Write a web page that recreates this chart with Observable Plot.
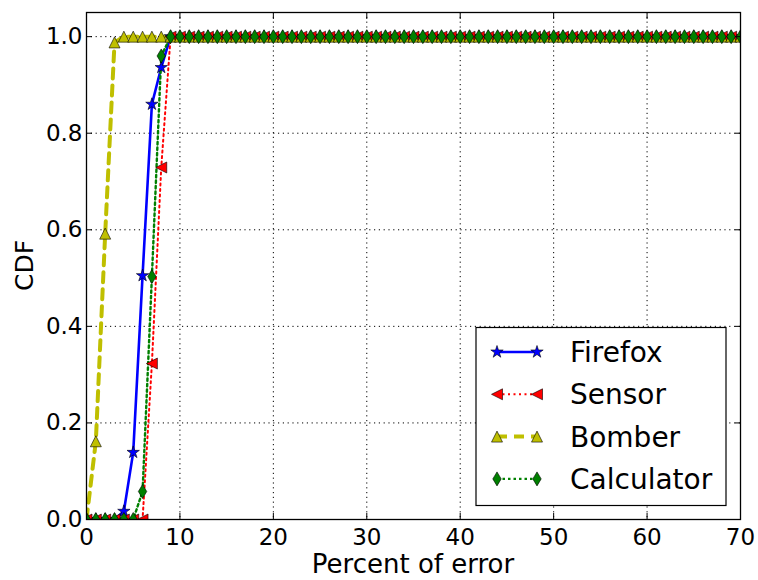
<!DOCTYPE html>
<html><head><meta charset="utf-8">
<script src="https://cdn.jsdelivr.net/npm/d3@7"></script>
<script src="https://cdn.jsdelivr.net/npm/@observablehq/plot@0.6"></script>
<style>body{margin:0;background:#fff} svg{font-family:"DejaVu Sans",sans-serif}</style>
</head><body><div id="chart"></div>
<script>
const percentError = [0,1,2,3,4,5,6,7,8,9,10,11,12,13,14,15,16,17,18,19,20,21,22,23,24,25,26,27,28,29,30,31,32,33,34,35,36,37,38,39,40,41,42,43,44,45,46,47,48,49,50,51,52,53,54,55,56,57,58,59,60,61,62,63,64,65,66,67,68,69,70];
const firefox = [0,0,0,0,0.017,0.139,0.505,0.86,0.936,
  1,1,1,1,1,1,1,1,1,1, 1,1,1,1,1,1,1,1,1,1, 1,1,1,1,1,1,1,1,1,1, 1,1,1,1,1,1,1,1,1,1, 1,1,1,1,1,1,1,1,1,1, 1,1,1,1,1,1,1,1,1,1, 1,1];
const sensor = [0,0,0,0,0,0,0,0.323,0.729,
  1,1,1,1,1,1,1,1,1,1, 1,1,1,1,1,1,1,1,1,1, 1,1,1,1,1,1,1,1,1,1, 1,1,1,1,1,1,1,1,1,1, 1,1,1,1,1,1,1,1,1,1, 1,1,1,1,1,1,1,1,1,1, 1,1];
const bomber = [0,0.162,0.592,0.988,
  1,1,1,1,1,1,1,1,1,1, 1,1,1,1,1,1,1,1,1,1, 1,1,1,1,1,1,1,1,1,1, 1,1,1,1,1,1,1,1,1,1, 1,1,1,1,1,1,1,1,1,1, 1,1,1,1,1,1,1,1,1,1, 1,1,1,1,1,1,1];
const calculator = [0,0,0,0,0,0,0.058,0.503,0.96,
  1,1,1,1,1,1,1,1,1,1, 1,1,1,1,1,1,1,1,1,1, 1,1,1,1,1,1,1,1,1,1, 1,1,1,1,1,1,1,1,1,1, 1,1,1,1,1,1,1,1,1,1, 1,1,1,1,1,1,1,1,1,1, 1,1];
const xTicks = [0,10,20,30,40,50,60,70];
const yTicks = [0,0.2,0.4,0.6,0.8,1.0];
const seriesNames = ["Firefox","Sensor","Bomber","Calculator"];

function rad(size){ return Math.sqrt(size/Math.PI); }
const starSym = {draw(ctx,size){const R=rad(size),r=R*0.382;for(let i=0;i<10;i++){const a=-Math.PI/2+i*Math.PI/5,q=i%2?r:R;const x=q*Math.cos(a),y=q*Math.sin(a);i?ctx.lineTo(x,y):ctx.moveTo(x,y);}ctx.closePath();}};
const triUp = {draw(ctx,size){const h=rad(size);ctx.moveTo(0,-h);ctx.lineTo(h,h);ctx.lineTo(-h,h);ctx.closePath();}};
const triLeft = {draw(ctx,size){const h=rad(size);ctx.moveTo(-h,0);ctx.lineTo(h,-h);ctx.lineTo(h,h);ctx.closePath();}};
const thinDiamond = {draw(ctx,size){const h=rad(size);ctx.moveTo(0,-h);ctx.lineTo(0.6*h,0);ctx.lineTo(0,h);ctx.lineTo(-0.6*h,0);ctx.closePath();}};

const series = [
  {name:seriesNames[0], values:firefox, color:"#0000ff", dash:null, width:2.6, sym:starSym, r:6.5},
  {name:seriesNames[1], values:sensor, color:"#ff0000", dash:"2,3.5", width:2, sym:triLeft, r:5.5},
  {name:seriesNames[2], values:bomber, color:"#bfbf00", dash:"10,7", width:4, sym:triUp, r:5.5},
  {name:seriesNames[3], values:calculator, color:"#008000", dash:"2.5,3", width:2.4, sym:thinDiamond, r:7}
];

const marks = [
  Plot.gridX(xTicks.filter(d=>d>0&&d<70), {stroke:"#000", strokeOpacity:1, strokeWidth:1, strokeDasharray:"1.2,3.6"}),
  Plot.gridY(yTicks.filter(d=>d>0), {stroke:"#000", strokeOpacity:1, strokeWidth:1, strokeDasharray:"1.2,3.6"})
];
for (const s of series) {
  const data = percentError.map((x,i)=>({x, y:s.values[i]}));
  marks.push(Plot.line(data, {x:"x", y:"y", stroke:s.color, strokeWidth:s.width, strokeDasharray:s.dash, clip:true}));
}
for (const s of series) {
  const data = percentError.map((x,i)=>({x, y:s.values[i]}));
  marks.push(Plot.dot(data, {x:"x", y:"y", symbol:s.sym, r:s.r, fill:s.color, stroke:"#000", strokeWidth:0.6, clip:true}));
}
marks.push(
  Plot.axisX({anchor:"bottom", ticks:xTicks, tickSize:0, tickPadding:9, fontSize:23, label:null}),
  Plot.axisX({anchor:"bottom", ticks:xTicks, tickSize:-6, tickFormat:()=>"", label:null}),
  Plot.axisX({anchor:"top", ticks:xTicks, tickSize:-6, tickFormat:()=>"", label:null}),
  Plot.axisY({anchor:"left", ticks:yTicks, tickSize:0, tickPadding:4, fontSize:23, tickFormat:d3.format(".1f"), label:null}),
  Plot.axisY({anchor:"left", ticks:yTicks, tickSize:-6, tickFormat:()=>"", label:null}),
  Plot.axisY({anchor:"right", ticks:yTicks, tickSize:-6, tickFormat:()=>"", label:null}),
  Plot.frame({stroke:"#000", strokeWidth:1.3})
);

const plot = Plot.plot({
  width:758, height:580,
  marginLeft:86, marginRight:18, marginTop:12, marginBottom:61,
  style:{fontFamily:"DejaVu Sans", fontSize:"23px", color:"#000", background:"#fff"},
  x:{domain:[0,70]},
  y:{domain:[0,1.05]},
  marks
});

const svg = d3.select(plot);
const xs = plot.scale("x"), ys = plot.scale("y");
svg.append("text").attr("x", xs.apply(35)).attr("y", 573).attr("text-anchor","middle")
  .attr("font-size", 26).attr("fill","#000").text("Percent of error");
svg.append("text").attr("transform", `translate(33,${ys.apply(0.525)}) rotate(-90)`).attr("text-anchor","middle")
  .attr("font-size", 25).attr("fill","#000").text("CDF");

const lg = svg.append("g");
lg.append("rect").attr("x",476).attr("y",327.5).attr("width",250).attr("height",178).attr("fill","#fff").attr("stroke","#000").attr("stroke-width",1.2);
series.forEach((s,i)=>{
  const cy = 352 + i*42.3;
  lg.append("line").attr("x1",497).attr("x2",537).attr("y1",cy).attr("y2",cy)
    .attr("stroke",s.color).attr("stroke-width",s.width).attr("stroke-dasharray",s.dash);
  for (const cx of [497,537]) {
    lg.append("path").attr("d", d3.symbol(s.sym, s.r*s.r*Math.PI)()).attr("transform",`translate(${cx},${cy})`)
      .attr("fill",s.color).attr("stroke","#000").attr("stroke-width",0.6);
  }
  lg.append("text").attr("x",570).attr("y",cy).attr("dy","0.36em").attr("text-anchor","start")
    .attr("font-size",28).attr("fill","#000").text(s.name);
});

document.getElementById("chart").appendChild(plot);
</script></body></html>
